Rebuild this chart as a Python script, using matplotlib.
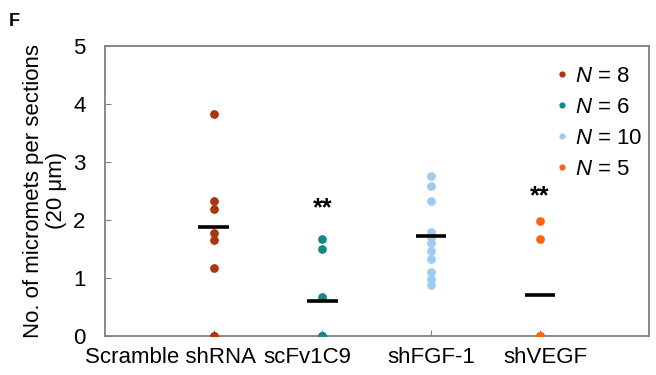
import matplotlib
matplotlib.use("Agg")
import matplotlib.pyplot as plt
from matplotlib.lines import Line2D
from matplotlib.transforms import ScaledTranslation

plt.rcParams['font.family'] = ['Liberation Sans', 'DejaVu Sans']
plt.rcParams['mathtext.fontset'] = 'custom'
plt.rcParams['mathtext.it'] = 'Liberation Sans:italic'
plt.rcParams['mathtext.rm'] = 'Liberation Sans'

# data
groups = ['Scramble shRNA', 'scFv1C9', 'shFGF-1', 'shVEGF']
scramble = [3.83, 2.33, 2.18, 1.77, 1.65, 1.17, 0.0, 0.0]
scfv = [1.67, 1.50, 0.67, 0.0, 0.0, 0.0]
shfgf = [2.75, 2.58, 2.33, 1.79, 1.70, 1.60, 1.47, 1.32, 1.10, 0.99, 0.88]
shvegf = [1.98, 1.67, 0.0, 0.0, 0.0]
means = [1.88, 0.61, 1.73, 0.71]
n_labels = ['8', '6', '10', '5']
colors = ['#A9370F', '#158A8A', '#9DCBF3', '#FF6414']
signif = ['', '**', '', '**']
signif_y = [0, 2.08, 0, 2.28]

values = [scramble, scfv, shfgf, shvegf]
fs = 16

fig = plt.figure(figsize=(6.56, 3.75), dpi=100)
ax = fig.add_axes([0.160, 0.104, 0.829, 0.774])

for i, vals in enumerate(values):
    xpos = i + 1
    ax.plot([xpos] * len(vals), vals, 'o', color=colors[i], markersize=6.3,
            markeredgewidth=0, zorder=3)
    ax.hlines(means[i], xpos - 0.14, xpos + 0.14, color='black', lw=2.6, zorder=4)
    if signif[i]:
        ax.text(xpos, signif_y[i], signif[i], ha='center', va='baseline',
                fontsize=18, fontweight='bold')

ax.set_xlim(0, 5)
ax.set_ylim(0, 5)
ax.set_yticks(range(6))
ax.set_xticks(range(1, 5))
ax.set_xticklabels(groups, fontsize=fs)
ax.tick_params(axis='both', direction='in', length=4, color='#808080', labelsize=fs)
ax.tick_params(axis='x', pad=8)
ax.tick_params(axis='y', pad=14)

# labels in the original sit a little off their ticks
shifts = [-43, -15, 0, 5]
for lab, dx in zip(ax.get_xticklabels(), shifts):
    lab.set_transform(lab.get_transform() + ScaledTranslation(dx / 100, 0, fig.dpi_scale_trans))

for sp in ax.spines.values():
    sp.set_color('#808080')
    sp.set_linewidth(1.3)

ax.set_ylabel('No. of micromets per sections\n(20 μm)', fontsize=fs, labelpad=4,
              linespacing=1.15)

handles = [Line2D([], [], marker='o', ls='', color=c, markersize=4.5, markeredgewidth=0)
           for c in colors]
labels = ['$\\it{N}$ = ' + n for n in n_labels]
ax.legend(handles, labels, loc='upper right', bbox_to_anchor=(1.025, 1.0),
          frameon=False, fontsize=fs, handletextpad=0.1, labelspacing=0.45,
          handlelength=1.0)

fig.text(0.014, 0.93, 'F', fontsize=13, fontweight='bold')

fig.savefig('out.png', dpi=100)
